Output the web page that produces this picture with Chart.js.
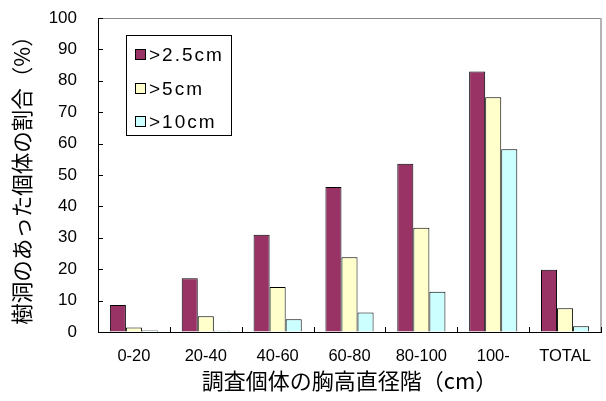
<!DOCTYPE html>
<html>
<head>
<meta charset="utf-8">
<script src="https://cdn.jsdelivr.net/npm/chart.js@4"></script>
<style>
  html, body { margin: 0; padding: 0; background: #ffffff; }
  #wrap { width: 606px; height: 401px; position: relative; }
</style>
</head>
<body>
<div id="wrap"><canvas id="c" width="606" height="401"></canvas></div>
<script>
// Diameter classes (breast height, cm)
const categories = ['0-20', '20-40', '40-60', '60-80', '80-100', '100-', 'TOTAL'];

// Share of trees with a cavity (%), by cavity entrance size
const seriesNames = ['>2.5cm', '>5cm', '>10cm'];
const over2_5cm = [8.6, 17.1, 31.0, 46.2, 53.6, 83.0, 19.8];
const over5cm   = [1.4, 5.0, 14.3, 23.8, 33.2, 74.8, 7.6];
const over10cm  = [0.5, 0.4, 4.1, 6.2, 12.8, 58.2, 1.8];

const yTicks = [0, 10, 20, 30, 40, 50, 60, 70, 80, 90, 100];

const colors = ['#993366', '#FFFFCC', '#CCFFFF'];

// Frame, inside tick marks and the boxed legend
const framePlugin = {
  id: 'frame',
  afterDraw(chart) {
    const ctx = chart.ctx;
    const a = chart.chartArea;
    const xs = chart.scales.x;
    const ys = chart.scales.y;
    ctx.save();
    // top and right plot-area border
    ctx.strokeStyle = '#8a8a8a';
    ctx.lineWidth = 1;
    ctx.beginPath();
    ctx.moveTo(a.left, a.top + 0.5);
    ctx.lineTo(a.right, a.top + 0.5);
    ctx.stroke();
    ctx.strokeStyle = '#b4b4b4';
    ctx.lineWidth = 2;
    ctx.beginPath();
    ctx.moveTo(a.right, a.top);
    ctx.lineTo(a.right, a.bottom);
    ctx.stroke();

    // inside ticks on the value axis
    ctx.strokeStyle = '#000000';
    ctx.lineWidth = 1;
    ctx.beginPath();
    yTicks.forEach(v => {
      const y = Math.round(ys.getPixelForValue(v)) + 0.5;
      ctx.moveTo(a.left, y);
      ctx.lineTo(a.left + 5, y);
    });
    // inside ticks between categories
    const n = categories.length;
    for (let i = 0; i <= n; i++) {
      const x = Math.round(xs.getPixelForValue(i - 0.5)) + 0.5;
      ctx.moveTo(x, a.bottom);
      ctx.lineTo(x, a.bottom - 5);
    }
    ctx.stroke();

    // legend box
    const bx = 126, by = 35, bw = 105, bh = 100;
    ctx.fillStyle = '#ffffff';
    ctx.fillRect(bx, by, bw, bh);
    ctx.strokeStyle = '#000000';
    ctx.lineWidth = 1;
    ctx.strokeRect(bx + 0.5, by + 0.5, bw, bh);
    const rows = [55, 89, 122];
    ctx.font = '19px "Liberation Sans", Arial, sans-serif';
    ctx.letterSpacing = '2px';
    ctx.textBaseline = 'middle';
    ctx.textAlign = 'left';
    chart.data.datasets.forEach((ds, i) => {
      const cy = rows[i];
      ctx.fillStyle = ds.backgroundColor;
      ctx.fillRect(135, cy - 6, 11, 11);
      ctx.strokeStyle = '#000000';
      ctx.strokeRect(135.5, cy - 5.5, 10, 10);
      ctx.fillStyle = '#000000';
      ctx.fillText(ds.label, 149, cy + 1);
    });
    ctx.restore();
  }
};

new Chart(document.getElementById('c'), {
  type: 'bar',
  data: {
    labels: categories,
    datasets: [
      { label: seriesNames[0], data: over2_5cm, backgroundColor: colors[0] },
      { label: seriesNames[1], data: over5cm,   backgroundColor: colors[1] },
      { label: seriesNames[2], data: over10cm,  backgroundColor: colors[2] }
    ].map(d => Object.assign(d, { borderColor: '#000000', borderWidth: 1, borderSkipped: 'bottom' }))
  },
  options: {
    responsive: false,
    animation: false,
    events: [],
    layout: { padding: { top: 18, right: 5, bottom: 0, left: 0 } },
    datasets: { bar: { categoryPercentage: 0.67, barPercentage: 1.0 } },
    plugins: {
      legend: { display: false },
      tooltip: { enabled: false }
    },
    scales: {
      x: {
        grid: { display: true, drawOnChartArea: false, drawTicks: true, tickLength: 12, color: 'rgba(0,0,0,0)' },
        border: { display: true, color: '#000000', width: 1 },
        ticks: {
          color: '#000000',
          padding: 3,
          font: { family: '"Liberation Sans", Arial, sans-serif', size: 16.5 },
          maxRotation: 0
        },
        title: {
          display: true,
          text: '調査個体の胸高直径階（cm）',
          color: '#000000',
          font: { family: '"Noto Sans CJK JP", sans-serif', size: 22 },
          padding: { top: 0, bottom: 7 }
        },
        afterFit(scale) { scale.height = 69; }
      },
      y: {
        min: 0,
        max: 100,
        grid: { display: true, drawOnChartArea: false, drawTicks: true, tickLength: 18, color: 'rgba(0,0,0,0)' },
        border: { display: true, color: '#000000', width: 1 },
        afterBuildTicks(scale) { scale.ticks = yTicks.map(v => ({ value: v })); },
        ticks: {
          color: '#000000',
          padding: 3,
          font: { family: '"Liberation Sans", Arial, sans-serif', size: 17 }
        },
        title: {
          display: true,
          text: '樹洞のあった個体の割合（%）',
          color: '#000000',
          font: { family: '"Noto Sans CJK JP", sans-serif', size: 21.5 },
          padding: { top: 9, bottom: 0 }
        },
        afterFit(scale) { scale.width = 98; }
      }
    }
  },
  plugins: [framePlugin]
});
</script>
</body>
</html>
